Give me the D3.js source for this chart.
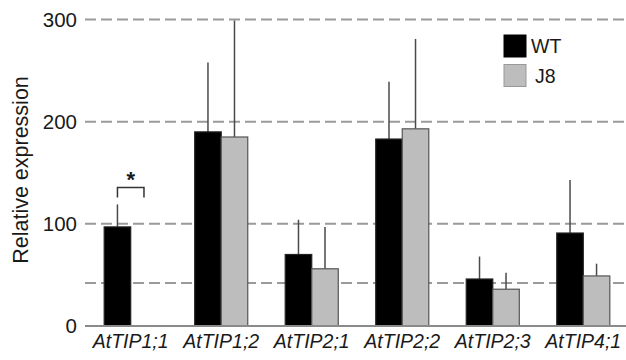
<!DOCTYPE html>
<html>
<head>
<meta charset="utf-8">
<script src="https://cdn.jsdelivr.net/npm/d3@7"></script>
<style>
  body { margin: 0; background: #fff; }
  svg text { font-family: "Liberation Sans", Arial, sans-serif; fill: #1a1a1a; }
</style>
</head>
<body>
<div id="chart"></div>
<script>
// Data
const genes = ['AtTIP1;1', 'AtTIP1;2', 'AtTIP2;1', 'AtTIP2;2', 'AtTIP2;3', 'AtTIP4;1'];
const series = ['WT', 'J8'];
const wtValues = [97, 190, 70, 183, 46, 91];
const wtErrors = [22, 68, 34, 56, 22, 52];
const j8Values = [null, 185, 56, 193, 36, 49];
const j8Errors = [null, 114, 41, 88, 16, 12];
const yTicks = [0, 100, 200, 300];
const gridValues = [42, 100, 200, 300];

const width = 626, height = 360;
const colors = { WT: '#000000', J8: '#bdbdbd' };
const strokes = { WT: '#222222', J8: '#555555' };

const svg = d3.select('#chart').append('svg')
  .attr('width', width).attr('height', height);

// Scales
const xScale = d3.scaleBand().domain(genes).range([85, 629])
  .paddingInner(0.414).paddingOuter(0.212);
const xSub = d3.scaleBand().domain(series).range([0, xScale.bandwidth()]);
const yScale = d3.scaleLinear().domain([0, 300]).range([326, 19.5]);

// Dashed gridlines
svg.append('g').selectAll('line').data(gridValues).join('line')
  .attr('x1', 85).attr('x2', width)
  .attr('y1', d => yScale(d)).attr('y2', d => yScale(d))
  .attr('stroke', '#9a9a9a').attr('stroke-width', 2)
  .attr('stroke-dasharray', '11,5');

// Bars + error bars
const rows = genes.map((g, i) => ([
  { gene: g, s: 'WT', v: wtValues[i], e: wtErrors[i] },
  { gene: g, s: 'J8', v: j8Values[i], e: j8Errors[i] }
])).flat().filter(d => d.v !== null);

svg.append('g').selectAll('line').data(rows).join('line')
  .attr('x1', d => xScale(d.gene) + xSub(d.s) + xSub.bandwidth() / 2)
  .attr('x2', d => xScale(d.gene) + xSub(d.s) + xSub.bandwidth() / 2)
  .attr('y1', d => yScale(d.v)).attr('y2', d => yScale(d.v + d.e))
  .attr('stroke', '#4a4a4a').attr('stroke-width', 1.5);

svg.append('g').selectAll('rect').data(rows).join('rect')
  .attr('x', d => xScale(d.gene) + xSub(d.s))
  .attr('y', d => yScale(d.v))
  .attr('width', xSub.bandwidth())
  .attr('height', d => yScale(0) - yScale(d.v))
  .attr('fill', d => colors[d.s])
  .attr('stroke', d => strokes[d.s]).attr('stroke-width', 1.2);

// Baseline
svg.append('line').attr('x1', 85).attr('x2', width)
  .attr('y1', yScale(0)).attr('y2', yScale(0))
  .attr('stroke', '#8a8a8a').attr('stroke-width', 2);

// Y tick labels
svg.append('g').selectAll('text').data(yTicks).join('text')
  .attr('x', 77).attr('y', d => yScale(d))
  .attr('dy', '0.35em').attr('text-anchor', 'end')
  .style('font-size', '20.5px').text(d => d);

// X labels
svg.append('g').selectAll('text').data(genes).join('text')
  .attr('x', d => xScale(d) + xScale.bandwidth() / 2).attr('y', 348)
  .attr('text-anchor', 'middle').style('font-size', '19.5px')
  .style('font-style', 'italic').text(d => d);

// Y axis title
svg.append('text')
  .attr('transform', 'translate(28,' + 170 + ') rotate(-90)')
  .attr('text-anchor', 'middle').style('font-size', '21.5px')
  .text('Relative expression');

// Significance bracket for AtTIP1;1
const g0 = genes[0];
const bx1 = xScale(g0) + xSub('WT') + xSub.bandwidth() / 2;
const bx2 = xScale(g0) + xSub('J8') + xSub.bandwidth() / 2;
const by = yScale(wtValues[0] + wtErrors[0]) - 17;
svg.append('path')
  .attr('d', `M${bx1},${by + 10}V${by}H${bx2}V${by + 10}`)
  .attr('fill', 'none').attr('stroke', '#333').attr('stroke-width', 1.5);
svg.append('text').attr('x', (bx1 + bx2) / 2).attr('y', by)
  .attr('text-anchor', 'middle').style('font-size', '22px').style('font-weight', 'bold')
  .text('*');

// Legend
const legend = svg.append('g').attr('transform', 'translate(504,35)');
series.forEach((s, i) => {
  const row = legend.append('g').attr('transform', `translate(0,${i * 29.5})`);
  row.append('rect').attr('width', 22).attr('height', 22)
    .attr('fill', colors[s]).attr('stroke', s === 'WT' ? '#000' : '#999').attr('stroke-width', 1);
  row.append('text').attr('x', s === 'WT' ? 27 : 31).attr('y', 18)
    .style('font-size', '19.5px').text(s);
});
</script>
</body>
</html>
